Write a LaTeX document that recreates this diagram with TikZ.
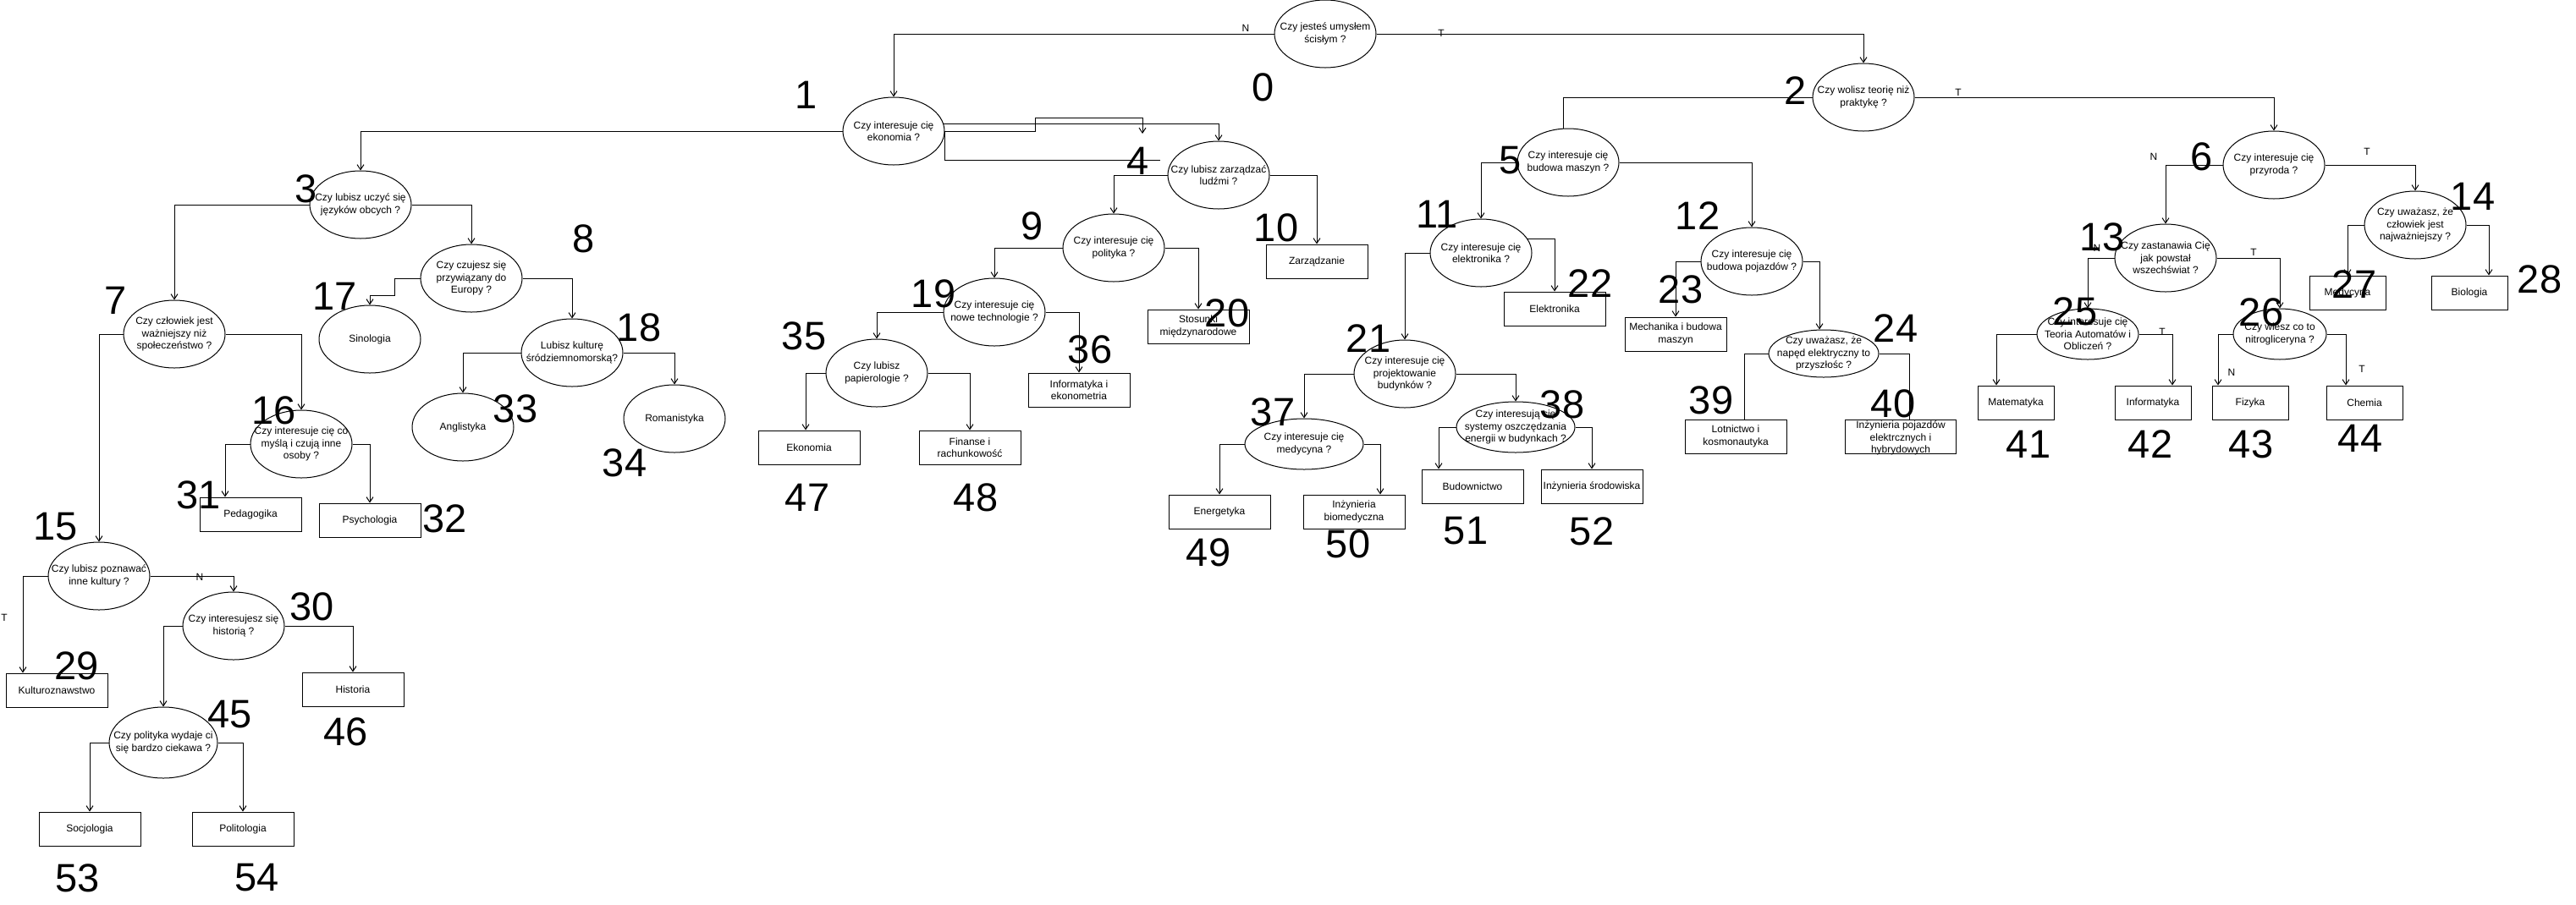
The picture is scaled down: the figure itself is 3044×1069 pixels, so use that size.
\documentclass[tikz,border=0pt]{standalone}
\usepackage{fontspec}
\setmainfont{Liberation Sans}
\usetikzlibrary{shapes.geometric,arrows.meta}
\tikzset{
  q/.style={ellipse, draw, line width=1pt, minimum width=120pt, minimum height=80pt, inner sep=0pt},
  qt/.style={align=center, inner sep=0pt, font=\fontsize{12}{14.4}\selectfont},
  leaf/.style={rectangle, draw, line width=1pt, minimum width=120pt, minimum height=40pt, inner sep=0pt, align=center, font=\fontsize{12}{14.4}\selectfont},
  num/.style={inner sep=0pt, font=\fontsize{47}{50}\selectfont},
  yn/.style={inner sep=0pt, font=\fontsize{12}{14}\selectfont},
  conn/.style={line width=1pt},
  arr/.style={conn, -{Straight Barb[length=6pt,width=8pt]}}
}
\begin{document}
\begin{tikzpicture}[x=1pt,y=-1pt]
\useasboundingbox (0,0) rectangle (3044,1069);
\fill[white] (0,0) rectangle (3044,1069);
% question ellipses
\node[q] (n0) at (1566,40) {};  \node[qt] (t0) at (n0) {Czy jesteś umysłem\\ścisłym ?};
\node[q] (n1) at (1056,155) {}; \node[qt] (t1) at (n1) {Czy interesuje cię\\ekonomia ?};
\node[q] (n2) at (2202,115) {}; \node[qt] (t2) at (n2) {Czy wolisz teorię niż\\praktykę ?};
\node[q] (n3) at (426,242) {};  \node[qt] (t3) at (n3) {Czy lubisz uczyć się\\języków obcych ?};
\node[q] (n4) at (1440,207) {}; \node[qt] (t4) at (n4) {Czy lubisz zarządzać\\ludźmi ?};
\node[q] (n5) at (1853,192) {}; \node[qt] (t5) at (n5) {Czy interesuje cię\\budowa maszyn ?};
\node[q] (n6) at (2687,195) {}; \node[qt] (t6) at (n6) {Czy interesuje cię\\przyroda ?};
\node[q] (n7) at (206,395) {};  \node[qt] (t7) at (n7) {Czy człowiek jest\\ważniejszy niż\\społeczeństwo ?};
\node[q] (n8) at (557,329) {};  \node[qt] (t8) at (n8) {Czy czujesz się\\przywiązany do\\Europy ?};
\node[q] (n9) at (1316,293) {}; \node[qt] (t9) at (n9) {Czy interesuje cię\\polityka ?};
\node[q] (n11) at (1750,299) {}; \node[qt] (t11) at (n11) {Czy interesuje cię\\elektronika ?};
\node[q] (n12) at (2070,309) {}; \node[qt] (t12) at (n12) {Czy interesuje cię\\budowa pojazdów ?};
\node[q] (n13) at (2559,305) {}; \node[qt] (t13) at (n13) {Czy zastanawia Cię\\jak powstał\\wszechświat ?};
\node[q] (n14) at (2854,266) {}; \node[qt] (t14) at (n14) {Czy uważasz, że\\człowiek jest\\najważniejszy ?};
\node[q] (n15) at (117,681) {};  \node[qt] (t15) at (n15) {Czy lubisz poznawać\\inne kultury ?};
\node[q] (n16) at (356,525) {};  \node[qt] (t16) at (n16) {Czy interesuje cię co\\myślą i czują inne\\osoby ?};
\node[q] (n17) at (437,401) {};  \node[qt] (t17) at (n17) {Sinologia};
\node[q] (n18) at (676,417) {};  \node[qt] (t18) at (n18) {Lubisz kulturę\\śródziemnomorską?};
\node[q] (n19) at (1175,369) {}; \node[qt] (t19) at (n19) {Czy interesuje cię\\nowe technologie ?};
\node[q] (n21) at (1660,442) {}; \node[qt] (t21) at (n21) {Czy interesuje cię\\projektowanie\\budynków ?};
\node[q, minimum width=130pt, minimum height=56pt] (n24) at (2155,418) {}; \node[qt] (t24) at (n24) {Czy uważasz, że\\napęd elektryczny to\\przyszłośc ?};
\node[q, minimum height=60pt] (n25) at (2467,395) {}; \node[qt] (t25) at (n25) {Czy interesuje cię\\Teoria Automatów i\\Obliczeń ?};
\node[q, minimum width=110pt, minimum height=60pt] (n26) at (2694,395) {}; \node[qt] (t26) at (n26) {Czy wiesz co to\\nitrogliceryna ?};
\node[q] (n30) at (276,740) {};  \node[qt] (t30) at (n30) {Czy interesujesz się\\historią ?};
\node[q] (n33) at (547,505) {};  \node[qt] (t33) at (n33) {Anglistyka};
\node[q] (n34) at (797,495) {};  \node[qt] (t34) at (n34) {Romanistyka};
\node[q] (n35) at (1036,441) {}; \node[qt] (t35) at (n35) {Czy lubisz\\papierologie ?};
\node[q, minimum width=140pt, minimum height=60pt] (n37) at (1541,525) {}; \node[qt] (t37) at (n37) {Czy interesuje cię\\medycyna ?};
\node[q, minimum width=140pt, minimum height=60pt] (n38) at (1791,505) {}; \node[qt] (t38) at (n38) {Czy interesują cię\\systemy oszczędzania\\energii w budynkach ?};
\node[q, minimum width=128pt, minimum height=84pt] (n45) at (193,878) {}; \node[qt] (t45) at (n45) {Czy polityka wydaje ci\\się bardzo ciekawa ?};
% leaf boxes
\node[leaf] (b10) at (1556,309) {Zarządzanie};
\node[leaf] (b20) at (1416,386) {Stosunki\\międzynarodowe};
\node[leaf] (b36) at (1275,461) {Informatyka i\\ekonometria};
\node[leaf] (b47) at (956,529) {Ekonomia};
\node[leaf] (b48) at (1146,529) {Finanse i\\rachunkowość};
\node[leaf] (b31) at (296,608) {Pedagogika};
\node[leaf] (b32) at (437,615) {Psychologia};
\node[leaf] (b29) at (67,816) {Kulturoznawstwo};
\node[leaf] (b46) at (417,815) {Historia};
\node[leaf] (b53) at (106,980) {Socjologia};
\node[leaf] (b54) at (287,980) {Politologia};
\node[leaf] (b22) at (1837,365) {Elektronika};
\node[leaf] (b23) at (1980,395) {Mechanika i budowa\\maszyn};
\node[leaf] (b49) at (1441,605) {Energetyka};
\node[leaf] (b50) at (1600,605) {Inżynieria\\biomedyczna};
\node[leaf] (b51) at (1740,575) {Budownictwo};
\node[leaf] (b52) at (1881,575) {Inżynieria środowiska};
\node[leaf] (b39) at (2051,516) {Lotnictwo i\\kosmonautyka};
\node[leaf, minimum width=131pt] (b40) at (2246,516) {}; \node[qt] (t40) at (2246,518) {Inżynieria pojazdów\\elektrcznych i\\hybrydowych};
\node[leaf, minimum width=90pt] (b41) at (2382,476) {Matematyka};
\node[leaf, minimum width=90pt] (b42) at (2544,476) {Informatyka};
\node[leaf, minimum width=90pt] (b43) at (2659,476) {Fizyka};
\node[leaf, minimum width=90pt] (b44) at (2794,476) {Chemia};
\node[leaf, minimum width=90pt] (b27) at (2774,346) {Medycyna};
\node[leaf, minimum width=90pt] (b28) at (2918,346) {Biologia};
% free ends
\coordinate (d1) at (1350,158);
\coordinate (d2) at (1371,189);
% connectors
\draw[arr] (n0.west) -| (n1.north);
\draw[arr] (n0.east) -| (n2.north);
\draw[arr] (n1.west) -| (n3.north);
\draw[arr] (n1.8) -| (n4.north);
\draw[arr] (n1.east) -- ++(107,0) -- ++(0,-16) -| (d1);
\draw[conn] (n1.east) |- (d2);
\draw[arr] (n3.west) -| (n7.north);
\draw[arr] (n3.east) -| (n8.north);
\draw[arr] (n7.west) -| (n15.north);
\draw[arr] (n7.east) -| (n16.north);
\draw[arr] (n8.west) -- ++(-30,0) -- ++(0,20) -| (n17.north);
\draw[arr] (n8.east) -| (n18.north);
\draw[arr] (n18.west) -| (n33.north);
\draw[arr] (n18.east) -| (n34.north);
\draw[arr] (n16.west) -| ([xshift=-30pt]b31.north);
\draw[arr] (n16.east) -| (b32.north);
\draw[arr] (n15.west) -| ([xshift=-40pt]b29.north);
\draw[arr] (n15.east) -| (n30.north);
\draw[arr] (n30.west) -| (n45.north);
\draw[arr] (n30.east) -| (b46.north);
\draw[arr] (n45.west) -| (b53.north);
\draw[arr] (n45.east) -| (b54.north);
\draw[arr] (n4.west) -| (n9.north);
\draw[arr] (n4.east) -| (b10.north);
\draw[arr] (n9.west) -| (n19.north);
\draw[arr] (n9.east) -| (b20.north);
\draw[arr] (n19.west) -| (n35.north);
\draw[arr] (n19.east) -| (b36.north);
\draw[arr] (n35.west) -| ([xshift=-4pt]b47.north);
\draw[arr] (n35.east) -| (b48.north);
\draw[conn] (n2.west) -| ([xshift=-6pt]n5.north);
\draw[arr] (n2.east) -| (n6.north);
\draw[arr] (n5.west) -| (n11.north);
\draw[arr] (n5.east) -| (n12.north);
\draw[arr] (n11.west) -| (n21.north);
\draw[arr] (n11.17) -| (b22.north);
\draw[arr] (n21.west) -| (n37.north);
\draw[arr] (n21.east) -| (n38.north);
\draw[arr] (n37.west) -| (b49.north);
\draw[arr] (n37.east) -| ([xshift=31pt]b50.north);
\draw[arr] (n38.west) -| ([xshift=-40pt]b51.north);
\draw[arr] (n38.east) -| (b52.north);
\draw[arr] (n12.west) -| (b23.north);
\draw[arr] (n12.east) -| ([xshift=-5pt]n24.north);
\draw[conn] (n24.west) -| ([xshift=10pt]b39.north);
\draw[conn] (n24.east) -| ([xshift=10pt]b40.north);
\draw[arr] (n6.west) -| (n13.north);
\draw[arr] (n6.east) -| (n14.north);
\draw[arr] (n13.west) -| (n25.north);
\draw[arr] (n13.east) -| (n26.north);
\draw[arr] (n25.west) -| ([xshift=-23pt]b41.north);
\draw[arr] (n25.east) -| ([xshift=23pt]b42.north);
\draw[arr] (n26.west) -| ([xshift=-38pt]b43.north);
\draw[arr] (n26.east) -| ([xshift=-22pt]b44.north);
\draw[arr] (n14.west) -| (b27.north);
\draw[arr] (n14.east) -| ([xshift=23pt]b28.north);
% N / T labels
\node[yn] (l01) at (1472,33) {N};
\node[yn] (l02) at (1703,39) {T};
\node[yn] (l26) at (2314,109) {T};
\node[yn] (l613) at (2545,185) {N};
\node[yn] (l614) at (2797,179) {T};
\node[yn] (l1325) at (2478,293) {N};
\node[yn] (l1326) at (2663,298) {T};
\node[yn] (l2542) at (2555,392) {T};
\node[yn] (l2643) at (2637,440) {N};
\node[yn] (l2644) at (2791,436) {T};
\node[yn] (l1529) at (5,730) {T};
\node[yn] (l1530) at (236,682) {N};
% big numbers
\node[num] (k0) at (1493,103) {0};
\node[num] (k1) at (953,112) {1};
\node[num] (k2) at (2122,107) {2};
\node[num] (k3) at (362,223) {3};
\node[num] (k4) at (1345,190) {4};
\node[num] (k5) at (1785,190) {5};
\node[num] (k6) at (2602,185) {6};
\node[num] (k7) at (137,355) {7};
\node[num] (k8) at (690,282) {8};
\node[num] (k9) at (1220,267) {9};
\node[num] (k10) at (1508,269) {10};
\node[num] (k11) at (1698,253) {11};
\node[num] (k12) at (2006,255) {12};
\node[num] (k13) at (2484,280) {13};
\node[num] (k14) at (2922,232) {14};
\node[num] (k15) at (66,623) {15};
\node[num] (k16) at (324,485) {16};
\node[num] (k17) at (396,350) {17};
\node[num] (k18) at (755,387) {18};
\node[num] (k19) at (1103,347) {19};
\node[num] (k20) at (1450,370) {20};
\node[num] (k21) at (1617,400) {21};
\node[num] (k22) at (1879,335) {22};
\node[num] (k23) at (1986,342) {23};
\node[num] (k24) at (2240,388) {24};
\node[num] (k25) at (2452,368) {25};
\node[num] (k26) at (2672,369) {26};
\node[num] (k27) at (2782,336) {27};
\node[num] (k28) at (3001,330) {28};
\node[num] (k29) at (91,787) {29};
\node[num] (k30) at (369,717) {30};
\node[num] (k31) at (235,585) {31};
\node[num] (k32) at (526,613) {32};
\node[num] (k33) at (609,483) {33};
\node[num] (k34) at (738,547) {34};
\node[num] (k35) at (950,397) {35};
\node[num] (k36) at (1288,413) {36};
\node[num] (k37) at (1504,487) {37};
\node[num] (k38) at (1846,478) {38};
\node[num] (k39) at (2022,473) {39};
\node[num] (k40) at (2237,477) {40};
\node[num] (k41) at (2397,525) {41};
\node[num] (k42) at (2541,525) {42};
\node[num] (k43) at (2660,525) {43};
\node[num] (k44) at (2789,518) {44};
\node[num] (k45) at (272,845) {45};
\node[num] (k46) at (409,865) {46};
\node[num] (k47) at (954,588) {47};
\node[num] (k48) at (1153,588) {48};
\node[num] (k49) at (1428,653) {49};
\node[num] (k50) at (1593,643) {50};
\node[num] (k51) at (1732,628) {51};
\node[num] (k52) at (1881,628) {52};
\node[num] (k53) at (92,1038) {53};
\node[num] (k54) at (304,1038) {54};
\end{tikzpicture}
\end{document}
